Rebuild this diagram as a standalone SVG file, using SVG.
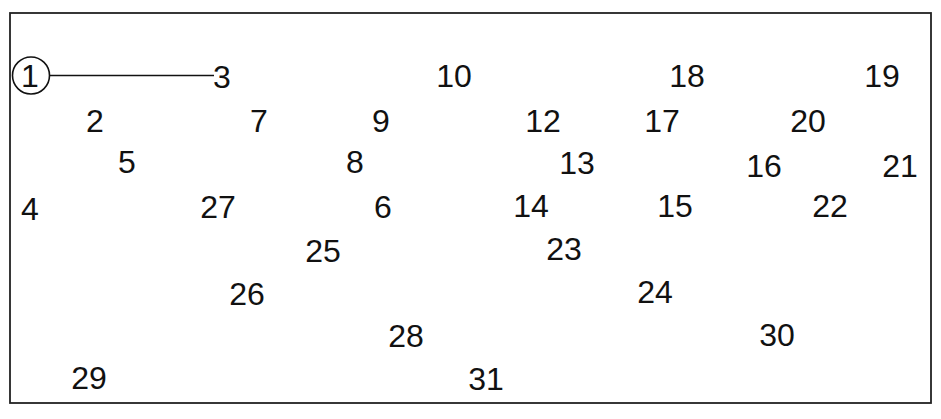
<svg xmlns="http://www.w3.org/2000/svg" width="941" height="419" viewBox="0 0 941 419">
<style>
text{font-family:"Liberation Sans","DejaVu Sans",sans-serif;font-size:32px;fill:#111;text-anchor:middle}
.frame{fill:none;stroke:#222;stroke-width:1.8}
.conn{stroke:#111;stroke-width:1.6;fill:none}
.ring{fill:#fff;stroke:#111;stroke-width:1.6}
</style>
<rect width="941" height="419" fill="#fff"/>
<rect class="frame" x="10" y="13" width="921" height="390"/>
<g id="connectors">
<line class="conn" x1="50" y1="75.5" x2="214" y2="75.5"/>
</g>
<g id="n1"><circle class="ring" cx="31" cy="75.5" r="18.5"/><text x="30" y="87">1</text></g>
<g id="n3"><text x="222" y="88">3</text></g>
<g id="n10"><text x="454" y="87">10</text></g>
<g id="n18"><text x="687" y="87">18</text></g>
<g id="n19"><text x="882" y="87">19</text></g>
<g id="n2"><text x="95" y="131.5">2</text></g>
<g id="n7"><text x="259" y="131.5">7</text></g>
<g id="n9"><text x="381" y="131.5">9</text></g>
<g id="n12"><text x="543" y="132">12</text></g>
<g id="n17"><text x="662" y="132">17</text></g>
<g id="n20"><text x="808" y="132">20</text></g>
<g id="n5"><text x="127" y="173">5</text></g>
<g id="n8"><text x="355" y="173">8</text></g>
<g id="n13"><text x="577" y="174">13</text></g>
<g id="n16"><text x="764" y="176.5">16</text></g>
<g id="n21"><text x="900" y="176.5">21</text></g>
<g id="n4"><text x="30" y="220">4</text></g>
<g id="n27"><text x="218" y="218">27</text></g>
<g id="n6"><text x="383" y="218">6</text></g>
<g id="n14"><text x="531" y="217">14</text></g>
<g id="n15"><text x="675" y="217">15</text></g>
<g id="n22"><text x="830" y="217">22</text></g>
<g id="n25"><text x="323" y="262">25</text></g>
<g id="n23"><text x="564" y="260">23</text></g>
<g id="n26"><text x="247" y="305">26</text></g>
<g id="n24"><text x="655" y="303">24</text></g>
<g id="n28"><text x="406" y="347">28</text></g>
<g id="n30"><text x="777" y="346">30</text></g>
<g id="n29"><text x="89" y="389">29</text></g>
<g id="n31"><text x="486" y="390">31</text></g>
</svg>
